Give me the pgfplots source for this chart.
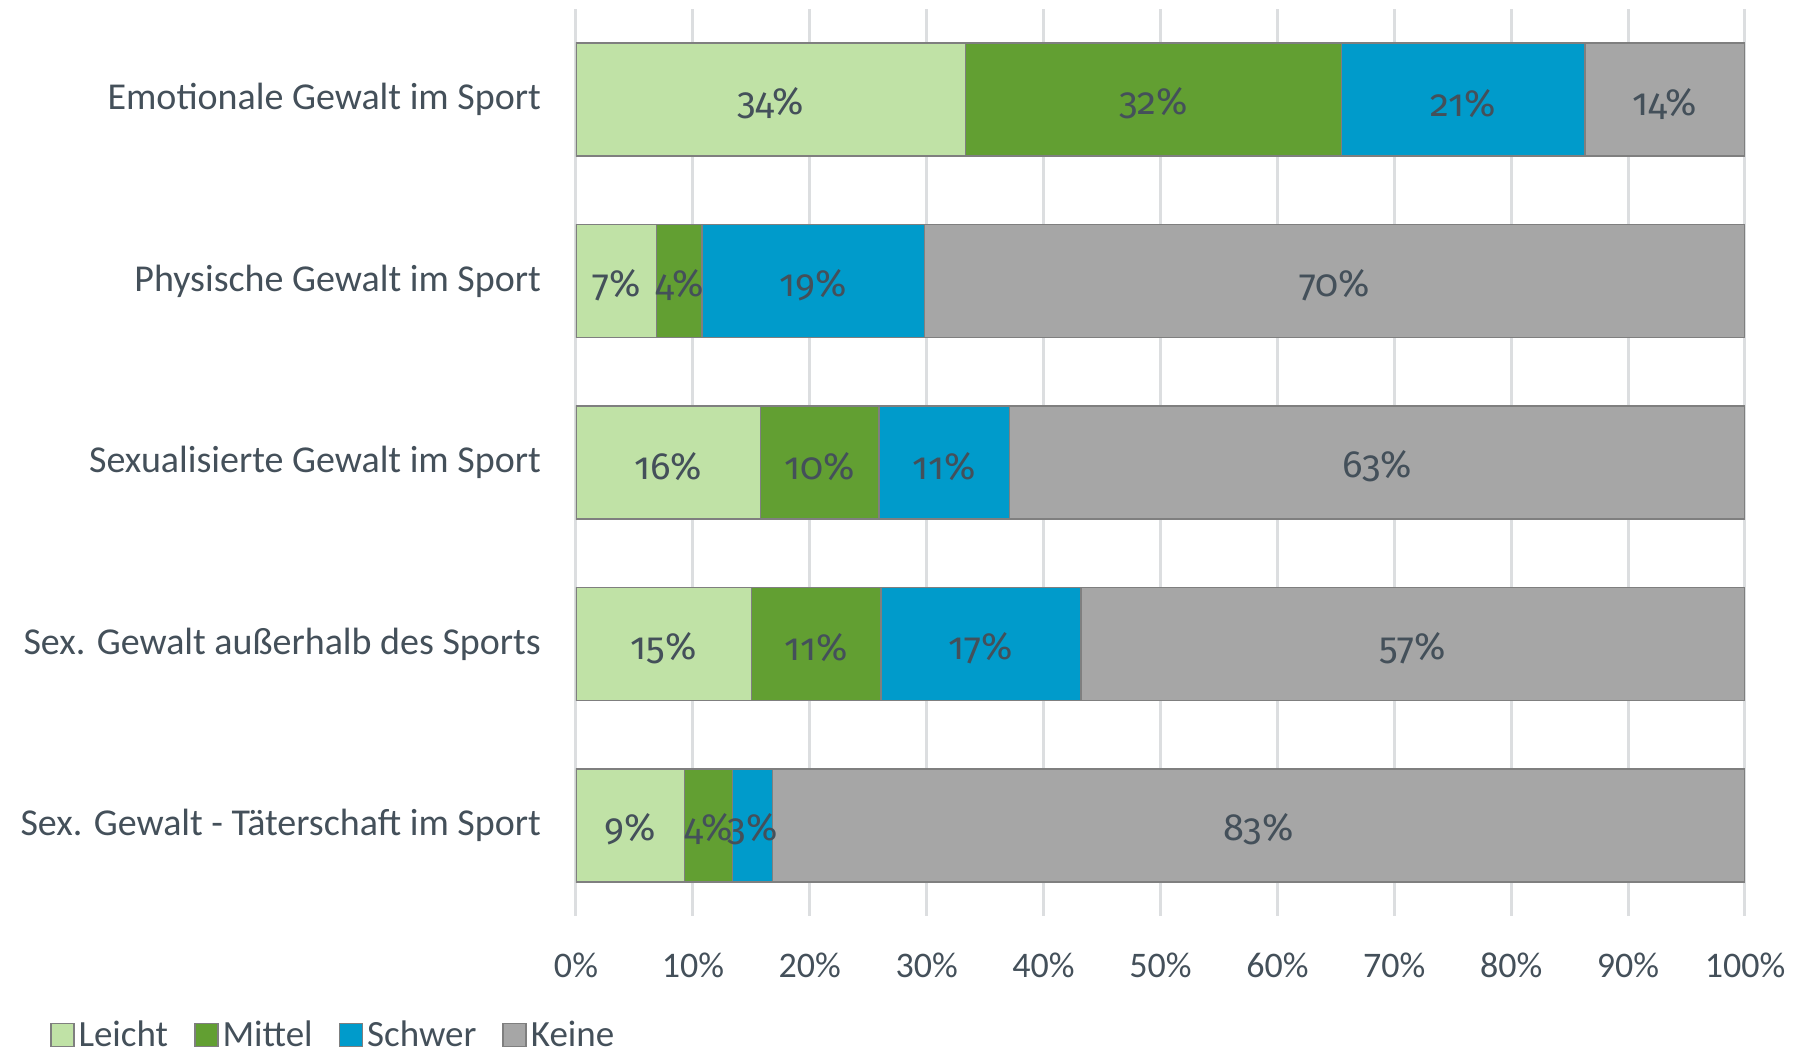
\documentclass[border=0pt]{standalone}
\usepackage{pgfplots}
\usepackage{pgfplotstable}
\pgfplotsset{compat=1.18}
\usepackage{fontspec}
\setmainfont{Carlito}
\newfontfamily\onumfont[Numbers=OldStyle]{Fira Sans}
\definecolor{cLeicht}{HTML}{C0E2A6}
\definecolor{cMittel}{HTML}{629F32}
\definecolor{cSchwer}{HTML}{009BCB}
\definecolor{cKeine}{HTML}{A6A6A6}
\definecolor{cEdge}{HTML}{7F7F7F}
\definecolor{cText}{HTML}{44505A}
\definecolor{cGrid}{HTML}{DCDEE0}

\pgfplotstableread{
y leicht mittel schwer keine
0 33.3 32.2 20.8 13.7
1 6.9 3.9 19.0 70.2
2 15.8 10.1 11.2 62.9
3 15.0 11.1 17.1 56.8
4 9.3 4.1 3.4 83.2
}\data

\pgfplotstableread{
x y lab
16.65 0 34
49.4 0 32
75.9 0 21
93.15 0 14
3.45 1 7
8.85 1 4
20.3 1 19
64.9 1 70
7.9 2 16
20.85 2 10
31.5 2 11
68.55 2 63
7.5 3 15
20.55 3 11
34.65 3 17
71.6 3 57
4.65 4 9
11.35 4 4
15.1 4 3
58.4 4 83
}\labels

\begin{document}
\begin{tikzpicture}
\begin{axis}[
  at={(0,0)}, anchor=south west,
  scale only axis, width=584.5pt, height=453.5pt,
  xmin=0, xmax=100, ymin=-0.5, ymax=4.5, y dir=reverse,
  xbar stacked, bar width=56.5pt,
  axis line style={draw=none},
  major tick style={draw=none},
  xmajorgrids, grid style={cGrid, line width=1.5pt},
  xtick={0,10,...,100},
  xticklabel={\pgfmathprintnumber{\tick}\%},
  /pgf/number format/assume math mode=true,
  xticklabel style={anchor=center, yshift=-24.5pt, font=\fontsize{18}{21}\selectfont, text=cText},
  ytick={0,1,2,3,4},
  yticklabels={Emotionale Gewalt im Sport, Physische Gewalt im Sport, Sexualisierte Gewalt im Sport, Sex. Gewalt außerhalb des Sports, Sex. Gewalt - Täterschaft im Sport},
  yticklabel style={anchor=east, xshift=-14pt, font=\fontsize{19}{22}\selectfont, text=cText},
  legend columns=4,
  legend style={at={(-0.452,-0.131)}, anchor=west, draw=none, fill=none,
    inner sep=1pt,
    font=\fontsize{18.5}{22}\selectfont, text=cText,
    /tikz/every even column/.append style={column sep=11pt}},
  legend image code/.code={\draw[#1] (0pt,-5.75pt) rectangle (11.5pt,5.75pt);},
]
\addplot[fill=cLeicht, draw=cEdge, line width=0.75pt] table[x=leicht, y=y]{\data};
\addplot[fill=cMittel, draw=cEdge, line width=0.75pt] table[x=mittel, y=y]{\data};
\addplot[fill=cSchwer, draw=cEdge, line width=0.75pt] table[x=schwer, y=y]{\data};
\addplot[fill=cKeine, draw=cEdge, line width=0.75pt] table[x=keine, y=y]{\data};
\legend{Leicht, Mittel, Schwer, Keine}
\end{axis}
\begin{axis}[
  at={(0,0)}, anchor=south west,
  scale only axis, width=584.5pt, height=453.5pt,
  xmin=0, xmax=100, ymin=-0.5, ymax=4.5, y dir=reverse,
  hide axis,
  /pgf/number format/assume math mode=true,
]
\addplot[sharp plot, draw=none, mark=none,
  point meta=explicit,
  nodes near coords={\onumfont\pgfmathprintnumber{\pgfplotspointmeta}\%},
  nodes near coords style={anchor=center, font=\fontsize{19}{22}\selectfont, text=cText, yshift=-2pt}]
  table[x=x, y=y, meta=lab]{\labels};
\end{axis}
\pgfresetboundingbox
\useasboundingbox (-288pt,-70pt) rectangle (615pt,458pt);
\end{tikzpicture}
\end{document}
